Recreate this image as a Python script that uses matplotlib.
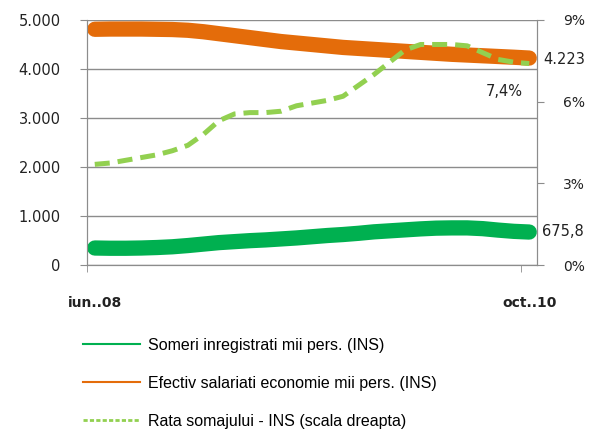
import matplotlib.pyplot as plt
from matplotlib.lines import Line2D

# date lunare iun. 2008 - oct. 2010
luni = list(range(29))
eticheta_x = ['iun..08', 'oct..10']

someri = [350, 345, 345, 350, 360, 375, 400, 430, 460, 480, 500, 515, 535, 555, 580,
          605, 625, 650, 680, 700, 720, 740, 755, 760, 760, 745, 715, 690, 675.8]
salariati = [4810, 4815, 4815, 4815, 4810, 4805, 4790, 4760, 4720, 4680, 4640, 4600,
             4560, 4530, 4500, 4470, 4440, 4420, 4400, 4380, 4360, 4340, 4320, 4300,
             4285, 4270, 4255, 4240, 4223]
rata = [3.7, 3.75, 3.85, 3.95, 4.05, 4.2, 4.4, 4.8, 5.3, 5.55, 5.6, 5.6, 5.65, 5.85,
        5.95, 6.05, 6.2, 6.6, 7.0, 7.45, 7.9, 8.1, 8.1, 8.1, 8.05, 7.8, 7.55, 7.45, 7.4]

plt.rcParams['font.family'] = ['DejaVu Sans']
gri = '#8c8c8c'
txt = '#222222'

fig = plt.figure(figsize=(5.96, 4.34), dpi=100)
ax = fig.add_axes([0.146, 0.389, 0.755, 0.565])
ax2 = ax.twinx()

ax.plot(luni, someri, color='#00B050', lw=11, solid_capstyle='round', zorder=3)
ax.plot(luni, salariati, color='#E46C0A', lw=11, solid_capstyle='round', zorder=3)
ax2.plot(luni, rata, color='#92D050', lw=3.6, dashes=(3, 1.6), zorder=4)

ax.set_xlim(-0.5, 28.5)
ax.set_ylim(0, 5000)
ax2.set_ylim(0, 9)
ax.set_zorder(ax2.get_zorder() - 1)
ax.patch.set_visible(True)
ax2.patch.set_visible(False)

ax.set_yticks([0, 1000, 2000, 3000, 4000, 5000])
ax.set_yticklabels(['0', '1.000', '2.000', '3.000', '4.000', '5.000'], fontsize=10.5, color=txt)
ax.yaxis.grid(True, color=gri, lw=1)
ax.tick_params(axis='y', length=5, color=gri, pad=14)

ax2.set_yticks([0, 3, 6, 9])
ax2.set_yticklabels(['0%', '3%', '6%', '9%'], fontsize=10, color=txt)
ax2.tick_params(axis='y', length=5, color=gri, pad=14)

ax.set_xticks([0, 28])
ax.set_xticklabels(eticheta_x, fontsize=10, fontweight='bold', color=txt)
ax.set_xticks([-0.5, 27.5], minor=True)
ax.tick_params(axis='x', which='major', length=0, pad=22)
ax.tick_params(axis='x', which='minor', length=5, color=gri)

for a in (ax, ax2):
    for s in a.spines.values():
        s.set_color(gri)
    a.spines['top'].set_visible(False)

# valorile finale
ax.annotate('4.223', xy=(28, salariati[-1]), xytext=(543, 374), textcoords='figure pixels',
            fontsize=10.5, va='center', ha='left', color=txt)
ax.annotate('675,8', xy=(28, someri[-1]), xytext=(542, 202), textcoords='figure pixels',
            fontsize=10.5, va='center', ha='left', color=txt)
ax.annotate('7,4%', xy=(28, 0), xytext=(523, 342), textcoords='figure pixels',
            fontsize=10.5, va='center', ha='right', color=txt)

handles = [Line2D([], [], color='#00B050', lw=1.5),
           Line2D([], [], color='#E46C0A', lw=1.5),
           Line2D([], [], color='#92D050', lw=2, dashes=(1.5, 0.8))]
labels = ['Someri inregistrati mii pers. (INS)',
          'Efectiv salariati economie mii pers. (INS)',
          'Rata somajului - INS (scala dreapta)']
fig.legend(handles, labels, loc='upper left', bbox_to_anchor=(0.115, 0.255),
           frameon=False, handlelength=3.6, handletextpad=0.5,
           labelspacing=1.45, prop={'family': 'Liberation Sans', 'size': 11.5})

fig.savefig('out.png', dpi=100)
